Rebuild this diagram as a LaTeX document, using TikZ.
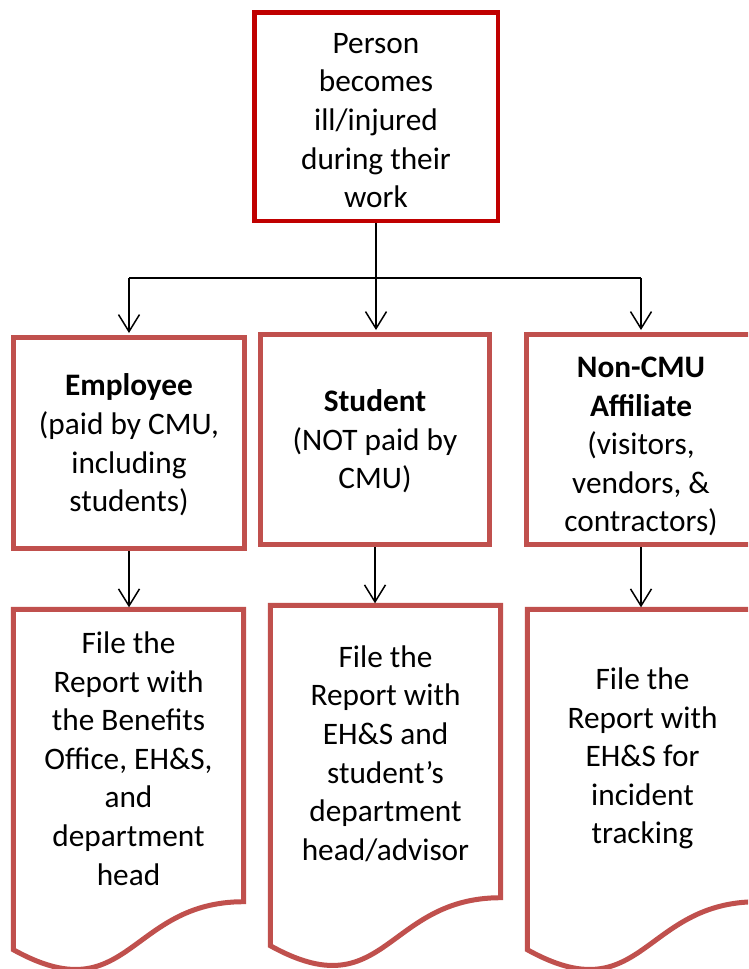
\documentclass[tikz,border=0pt]{standalone}
\usepackage{fontspec}
\setmainfont{Carlito}
\usetikzlibrary{arrows.meta,calc}
\definecolor{topred}{HTML}{C00000}
\definecolor{boxred}{HTML}{C0504D}
\tikzset{
  txt/.style={font=\fontsize{31.3}{38.6}\selectfont, align=center, text=black, inner sep=0pt},
  topbox/.style={draw=topred, line width=4.5pt, fill=white, inner sep=0pt},
  catbox/.style={draw=boxred, line width=5pt, fill=white, inner sep=0pt},
  docframe/.style={draw=boxred, line width=5pt, fill=white, line join=miter},
  conn/.style={draw=black, line width=1.5pt},
  arr/.style={conn, -{Straight Barb[length=17pt,width=21pt,line width=1.5pt]}, shorten >=2pt}
}
\newcommand\docframepath[1]{%
  \path[docframe] (#1.north west) -- (#1.north east) -- (#1.south east)
    .. controls (#1.south) and ($(#1.south)+(0,112)$) .. ($(#1.south west)+(0,48)$) -- cycle;}
\begin{document}
\begin{tikzpicture}[x=1pt,y=-1pt]
\useasboundingbox (0,0) rectangle (748,969);
\clip (0,0) rectangle (748,969);
\fill[white] (0,0) rectangle (748,969);

% top box
\node[topbox, minimum width=243.5pt, minimum height=208.5pt] (top) at (376,116.5) {};
\node[txt] (toptext) at ($(top.center)+(0,4)$)
  {Person\\becomes\\ill/injured\\during their\\work};

% category boxes
\node[catbox, minimum width=231pt, minimum height=211pt] (emp) at (129,443) {};
\node[txt] (emptext) at ($(emp.center)+(0,2)$)
  {\textbf{Employee}\\(paid by CMU,\\including\\students)};
\node[catbox, minimum width=229pt, minimum height=210pt] (stu) at (375,439.5) {};
\node[txt] (stutext) at ($(stu.center)+(0,2)$)
  {\textbf{Student}\\(NOT paid by\\CMU)};
\node[catbox, minimum width=229pt, minimum height=210pt] (aff) at (641,439.5) {};
\node[txt] (afftext) at ($(aff.center)+(0,7)$)
  {\textbf{Non-CMU}\\\textbf{Affiliate}\\(visitors,\\vendors, \&\\contractors)};

% document shapes (frames first, then text on top)
\node[minimum width=230pt, minimum height=292pt, inner sep=0pt] (edoc) at (128.5,755.5) {};
\node[minimum width=230pt, minimum height=292pt, inner sep=0pt] (sdoc) at (385.5,751.5) {};
\node[minimum width=230pt, minimum height=292pt, inner sep=0pt] (adoc) at (642.5,755.5) {};
\docframepath{edoc}
\docframepath{sdoc}
\docframepath{adoc}
\node[txt] (edoctext) at ($(edoc.center)+(0,3)$) {File the\\Report with\\the Benefits\\Office, EH\&S,\\and\\department\\head};
\node[txt] (sdoctext) at ($(sdoc.center)+(0,2)$) {File the\\Report with\\EH\&S and\\student’s\\department\\head/advisor};
\node[txt] (adoctext) at ($(adoc.center)+(0,3)$) {File the\\Report with\\EH\&S for\\incident\\tracking};

% connectors
\coordinate (j) at (376,278);
\draw[conn] (top.south) -- (j);
\draw[conn] (emp.north |- j) -- (aff.north |- j);
\draw[arr] (emp.north |- j) -- (emp.north);
\draw[arr] (j) -- (j |- stu.north);
\draw[arr] (aff.north |- j) -- (aff.north);

\draw[arr] (emp.south) -- (emp.south |- edoc.north);
\draw[arr] (stu.south) -- (stu.south |- sdoc.north);
\draw[arr] (aff.south) -- (aff.south |- adoc.north);
\end{tikzpicture}
\end{document}
